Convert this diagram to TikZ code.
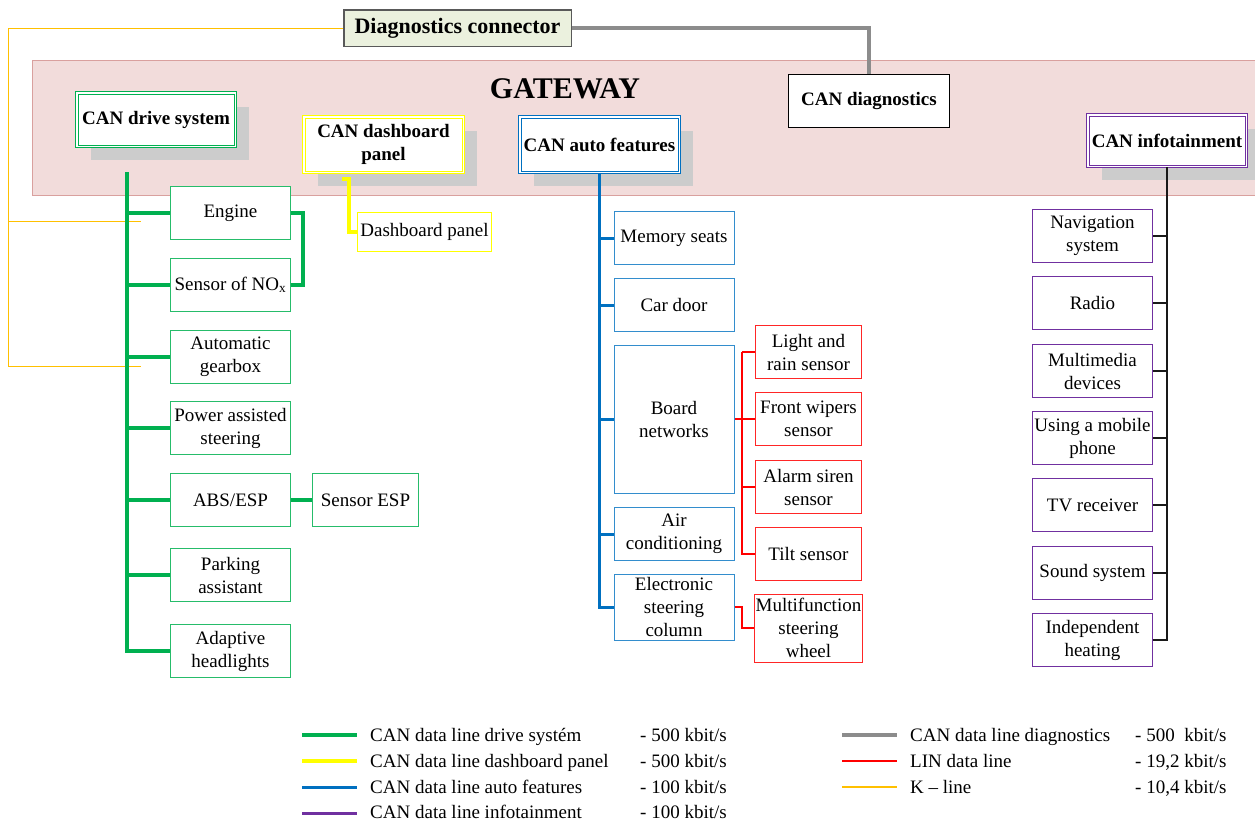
\documentclass[tikz,border=0pt]{standalone}
\usepackage{fontspec}
\setmainfont{Liberation Serif}
\usepackage{tikz}
\usetikzlibrary{shadows}

\definecolor{drivegreen}{RGB}{0,176,80}
\definecolor{dashyellow}{RGB}{255,255,0}
\definecolor{autoblue}{RGB}{0,112,192}
\definecolor{infopurple}{RGB}{112,48,160}
\definecolor{linred}{RGB}{255,0,0}
\definecolor{diaggray}{RGB}{140,140,140}
\definecolor{klineorange}{RGB}{255,192,0}
\definecolor{gatepink}{RGB}{242,220,219}
\definecolor{gateborder}{RGB}{217,160,158}
\definecolor{connfill}{RGB}{235,241,222}
\definecolor{shadowgray}{RGB}{204,204,204}

\newcommand{\canfont}{\fontsize{19}{23}\selectfont}

\tikzset{
  bushead/.style={draw=#1, double=white, double distance=1.5pt, line width=1pt, fill=white,
    minimum width=158.5pt, minimum height=53.5pt, align=center, inner sep=1pt, font=\canfont\bfseries,
    drop shadow={shadow xshift=14pt, shadow yshift=-14pt, fill=shadowgray, opacity=1}},
  unit/.style={draw=#1, fill=white, line width=1pt, minimum width=120pt, minimum height=53pt,
    align=center, inner sep=1pt, font=\canfont},
  sensor/.style={unit=#1, minimum width=106pt},
  legendtext/.style={anchor=base west, inner sep=0pt, font=\canfont},
  drivebus/.style={draw=drivegreen, line width=4pt},
  dashline/.style={draw=dashyellow, line width=4pt},
  autobus/.style={draw=autoblue, line width=3pt},
  infobus/.style={draw=black!90, line width=2.5pt},
  linline/.style={draw=linred, line width=1.5pt},
  diagline/.style={draw=diaggray, line width=3.5pt},
  kline/.style={draw=klineorange, line width=1pt}
}

\begin{document}
\begin{tikzpicture}[x=1pt, y=-1pt]
\useasboundingbox (0,0) rectangle (1255,822);
% gateway area
\filldraw[fill=gatepink, draw=gateborder] (32,60) rectangle (1262,195);
\node[font=\fontsize{30}{32}\selectfont\bfseries] (gateway) at (565,89) {GATEWAY};

% diagnostics
\node[draw=black!65, line width=1.5pt, fill=connfill, minimum width=227.5pt, minimum height=36.5pt, inner sep=1pt, font=\fontsize{22}{24}\selectfont\bfseries] (conn) at (457.5,28) {Diagnostics connector};
\node[draw=black, line width=1pt, fill=white, minimum width=161pt, minimum height=53pt, font=\canfont\bfseries] (candiag) at (869,101) {CAN diagnostics};

% bus heads
\node[bushead=drivegreen] (drive) at (156,119.5) {CAN drive system};
\node[bushead=dashyellow, minimum width=159.5pt, minimum height=55.5pt] (dash) at (383.5,144.5) {CAN dashboard\\panel};
\node[bushead=autoblue, minimum width=159.5pt, minimum height=55.5pt] (auto) at (599.5,144.5) {CAN auto features};
\node[bushead=infopurple, minimum height=51.5pt] (info) at (1167,140.5) {CAN infotainment};

% drive system units
\node[unit=drivegreen!85] (engine) at (230.5,213) {Engine};
\node[unit=drivegreen!85] (nox) at (230.5,285) {Sensor of NO\textsubscript{x}};
\node[unit=drivegreen!85] (gearbox) at (230.5,357) {Automatic\\gearbox};
\node[unit=drivegreen!85] (steering) at (230.5,428) {Power assisted\\steering};
\node[unit=drivegreen!85] (abs) at (230.5,500) {ABS/ESP};
\node[sensor=drivegreen!85] (espsensor) at (365.5,500) {Sensor ESP};
\node[unit=drivegreen!85] (parking) at (230.5,575) {Parking\\assistant};
\node[unit=drivegreen!85] (headlights) at (230.5,651) {Adaptive\\headlights};

% dashboard unit
\node[unit=dashyellow, minimum width=134pt, minimum height=39pt] (dashpanel) at (424.5,232) {Dashboard panel};

% auto features units
\node[unit=autoblue!80] (memory) at (674,238) {Memory seats};
\node[unit=autoblue!80] (cardoor) at (674,305) {Car door};
\node[unit=autoblue!80, minimum height=148pt] (board) at (674,419) {Board\\networks};
\node[unit=autoblue!80] (aircon) at (674,534) {Air\\conditioning};
\node[unit=autoblue!80, minimum height=66pt] (esc) at (674,607) {Electronic\\steering\\column};

% LIN units
\node[sensor=linred!85] (lightrain) at (808.5,352) {Light and\\rain sensor};
\node[sensor=linred!85] (wipers) at (808.5,419) {Front wipers\\sensor};
\node[sensor=linred!85] (alarm) at (808.5,487) {Alarm siren\\sensor};
\node[sensor=linred!85] (tilt) at (808.5,554) {Tilt sensor};
\node[sensor=linred!85, minimum height=68pt] (wheel) at (808.5,628) {Multifunction\\steering\\wheel};

% infotainment units
\node[unit=infopurple] (nav) at (1092.5,236) {Navigation\\system};
\node[unit=infopurple] (radio) at (1092.5,303) {Radio};
\node[unit=infopurple] (media) at (1092.5,371) {Multimedia\\devices};
\node[unit=infopurple] (phone) at (1092.5,438) {Using a mobile\\phone};
\node[unit=infopurple] (tv) at (1092.5,505) {TV receiver};
\node[unit=infopurple] (sound) at (1092.5,573) {Sound system};
\node[unit=infopurple] (heating) at (1092.5,640) {Independent\\heating};

% K-line
\coordinate (kcorner) at (8,28);
\coordinate (kend1) at (141,221);
\coordinate (kend2) at (141,366);
\draw[kline] (conn.west) -- (kcorner) |- (kend2);
\draw[kline] (kcorner |- kend1) -- (kend1);

% CAN diagnostics line
\draw[diagline] (conn.east) -| (candiag.north);

% drive system bus
\coordinate (drivetop) at (127,172);
\draw[drivebus] (drivetop) |- (headlights.west);
\draw[drivebus] (drivetop |- engine.west) -- (engine.west);
\draw[drivebus] (drivetop |- nox.west) -- (nox.west);
\draw[drivebus] (drivetop |- gearbox.west) -- (gearbox.west);
\draw[drivebus] (drivetop |- steering.west) -- (steering.west);
\draw[drivebus] (drivetop |- abs.west) -- (abs.west);
\draw[drivebus] (drivetop |- parking.west) -- (parking.west);
\draw[drivebus] (engine.east) -- ++(12,0) |- (nox.east);
\draw[drivebus] (abs.east) -- (espsensor.west);

% dashboard line
\coordinate (dashtop) at (342,179);
\draw[dashline] (dashtop) -- ++(7,0) |- (dashpanel.west);

% auto features bus
\draw[autobus] (auto.south) |- (esc.west);
\draw[autobus] (auto.south |- memory.west) -- (memory.west);
\draw[autobus] (auto.south |- cardoor.west) -- (cardoor.west);
\draw[autobus] (auto.south |- board.west) -- (board.west);
\draw[autobus] (auto.south |- aircon.west) -- (aircon.west);

% LIN lines
\coordinate (linbus) at (742,352);
\draw[linline] (linbus) |- (tilt.west);
\draw[linline] (linbus) -- (lightrain.west);
\draw[linline] (linbus |- wipers.west) -- (wipers.west);
\draw[linline] (linbus |- alarm.west) -- (alarm.west);
\draw[linline] (board.east) -- (board.east -| linbus);
\draw[linline] (esc.east) -- (esc.east -| linbus) |- (wheel.west);

% infotainment bus
\draw[infobus] (info.south) |- (heating.east);
\draw[infobus, line width=2pt] (info.south |- nav.east) -- (nav.east);
\draw[infobus, line width=2pt] (info.south |- radio.east) -- (radio.east);
\draw[infobus, line width=2pt] (info.south |- media.east) -- (media.east);
\draw[infobus, line width=2pt] (info.south |- phone.east) -- (phone.east);
\draw[infobus, line width=2pt] (info.south |- tv.east) -- (tv.east);
\draw[infobus, line width=2pt] (info.south |- sound.east) -- (sound.east);

% legend
\node[legendtext] (lgdrive) at (370,741) {CAN data line drive systém};
\node[legendtext] (lgdash) at (370,767) {CAN data line dashboard panel};
\node[legendtext] (lgauto) at (370,793) {CAN data line auto features};
\node[legendtext] (lginfo) at (370,818) {CAN data line infotainment};
\node[legendtext] (rtdrive) at (640,741) {- 500 kbit/s};
\node[legendtext] (rtdash) at (640,767) {- 500 kbit/s};
\node[legendtext] (rtauto) at (640,793) {- 100 kbit/s};
\node[legendtext] (rtinfo) at (640,818) {- 100 kbit/s};
\node[legendtext] (lgdiag) at (910,741) {CAN data line diagnostics};
\node[legendtext] (lglin) at (910,767) {LIN data line};
\node[legendtext] (lgk) at (910,793) {K -- line};
\node[legendtext] (rtdiag) at (1135,741) {- 500\ \ kbit/s};
\node[legendtext] (rtlin) at (1135,767) {- 19,2 kbit/s};
\node[legendtext] (rtk) at (1135,793) {- 10,4 kbit/s};
\draw[drivebus] ([xshift=-68pt,yshift=6pt]lgdrive.base west) -- ([xshift=-13pt,yshift=6pt]lgdrive.base west);
\draw[dashline] ([xshift=-68pt,yshift=6pt]lgdash.base west) -- ([xshift=-13pt,yshift=6pt]lgdash.base west);
\draw[autobus] ([xshift=-68pt,yshift=6pt]lgauto.base west) -- ([xshift=-13pt,yshift=6pt]lgauto.base west);
\draw[draw=infopurple, line width=3pt] ([xshift=-68pt,yshift=5pt]lginfo.base west) -- ([xshift=-13pt,yshift=5pt]lginfo.base west);
\draw[diagline] ([xshift=-68pt,yshift=6pt]lgdiag.base west) -- ([xshift=-13pt,yshift=6pt]lgdiag.base west);
\draw[linline] ([xshift=-68pt,yshift=6pt]lglin.base west) -- ([xshift=-13pt,yshift=6pt]lglin.base west);
\draw[kline, line width=2pt] ([xshift=-68pt,yshift=6pt]lgk.base west) -- ([xshift=-13pt,yshift=6pt]lgk.base west);
\end{tikzpicture}
\end{document}
